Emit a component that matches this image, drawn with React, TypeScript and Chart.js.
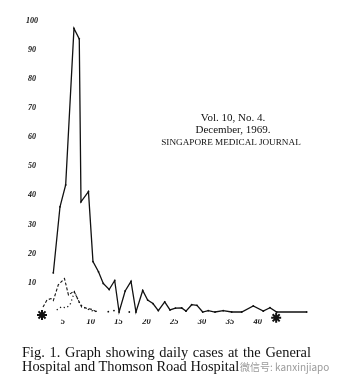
import React, { useEffect, useRef } from "react";
import { Chart, registerables } from "chart.js";

Chart.register(...registerables);

// Tick labels
const xTickValues = [5, 10, 15, 20, 25, 30, 35, 40];
const yTickValues = [10, 20, 30, 40, 50, 60, 70, 80, 90, 100];

// Solid line: total daily cases (day number, cases)
const totalDays = [3.29, 4.49, 5.51, 7.0, 7.95, 8.26, 9.6, 10.41, 11.4, 12.26, 13.32, 14.31, 15.1, 16.19, 17.24, 18.13, 19.34, 20.23, 21.18, 22.14, 23.29, 24.24, 25.22, 26.34, 27.11, 28.13, 29.08, 30.11, 31.11, 32.32, 33.8, 35.31, 37.11, 39.19, 40.99, 42.19, 43.39, 48.78];
const totalCases = [13.4, 36.1, 43.6, 97.3, 93.7, 37.8, 41.3, 17.3, 13.8, 9.8, 7.7, 10.8, 0, 7.2, 10.5, 0, 7.4, 4.1, 2.9, 0.5, 3.5, 0.7, 1.3, 1.4, 0.3, 2.5, 2.3, 0, 0.5, 0, 0.5, 0, 0, 2.1, 0.3, 1.5, 0, 0];

// Dashed line
const dashedDays = [1.44, 2.15, 2.87, 3.29, 4.18, 5.3, 6.01, 7.0, 8.38, 9.28, 10.18, 11.13];
const dashedCases = [1.7, 4.1, 4.6, 3.9, 9.3, 11.5, 5.8, 7.2, 1.7, 1.3, 0.9, 0];

// Dotted line
const dottedDays = [3.9, 4.79, 5.57, 6.28, 7.09, 8.08, 9.16, 10.18, 11.08];
const dottedCases = [0.7, 1.8, 1.4, 2.4, 6.9, 2.7, 1.2, 0.5, 0.2];
const dottedTailDays = [13.16, 14.18, 16.93];
const dottedTailCases = [0.1, 0.5, 0];

// Hand-drawn arrow marks (start / end)
const markDays = [1.26, 43.3];
const markValues = [-1, -2];

const INK = "#111";

const pts = (xs: number[], ys: number[]) => xs.map((x, i) => ({ x, y: ys[i] }));

export default function App() {
  const ref = useRef<HTMLCanvasElement>(null);

  useEffect(() => {
    const chart = new Chart(ref.current as HTMLCanvasElement, {
      type: "line",
      data: {
        datasets: [
          {
            data: pts(totalDays, totalCases),
            borderColor: INK,
            backgroundColor: INK,
            borderWidth: 1.3,
            pointRadius: 0.9,
            pointBorderWidth: 0,
            tension: 0,
            clip: false,
          },
          {
            data: pts(dashedDays, dashedCases),
            borderColor: INK,
            borderWidth: 1.1,
            borderDash: [3, 2],
            pointRadius: 0,
            tension: 0,
            clip: false,
          },
          {
            data: pts(dottedDays, dottedCases),
            borderColor: INK,
            borderWidth: 1.3,
            borderDash: [1.2, 2.8],
            pointRadius: 0,
            tension: 0,
            clip: false,
          },
          {
            data: pts(dottedTailDays, dottedTailCases),
            showLine: false,
            backgroundColor: INK,
            borderColor: INK,
            pointRadius: 0.9,
            pointBorderWidth: 0,
            clip: false,
          },
          {
            data: pts(markDays, markValues),
            showLine: false,
            pointStyle: "star",
            pointRadius: 5,
            borderColor: INK,
            backgroundColor: INK,
            pointBorderWidth: 2,
            clip: false,
          },
        ],
      },
      options: {
        responsive: false,
        animation: false,
        events: [],
        layout: { padding: { top: 20.5, right: 30.3, left: 0, bottom: 0 } },
        plugins: { legend: { display: false }, tooltip: { enabled: false } },
        scales: {
          x: {
            type: "linear",
            min: 0.9,
            max: 49.5,
            grid: { display: false, drawTicks: false },
            border: { display: false },
            afterFit: (s: any) => {
              s.height = 62.7;
            },
            afterBuildTicks: (s: any) => {
              s.ticks = xTickValues.map((v) => ({ value: v }));
            },
            ticks: {
              padding: -3,
              color: "#111",
              font: { family: '"Liberation Serif", serif', style: "italic", weight: "bold", size: 8.5 },
              callback: (v: any) => String(v),
            },
          },
          y: {
            type: "linear",
            min: -2.5,
            max: 100,
            grid: { display: false, drawTicks: false },
            border: { display: false },
            afterFit: (s: any) => {
              s.width = 40;
            },
            afterBuildTicks: (s: any) => {
              s.ticks = yTickValues.map((v) => ({ value: v }));
            },
            ticks: {
              padding: 2,
              crossAlign: "center",
              color: "#111",
              font: { family: '"Liberation Serif", serif', style: "italic", weight: "bold", size: 8 },
              callback: (v: any) => String(v),
            },
          },
        },
      } as any,
    });
    return () => chart.destroy();
  }, []);

  const serif = '"Liberation Serif", "Times New Roman", serif';
  const line = (top: number, size: number, extra: any = {}) => ({
    position: "absolute" as const,
    top,
    fontFamily: serif,
    fontSize: size,
    lineHeight: "12px",
    color: "#111",
    whiteSpace: "nowrap" as const,
    ...extra,
  });

  return (
    <div style={{ position: "fixed", left: 0, top: 0, width: 341, height: 382, background: "#fff", overflow: "hidden" }}>
      <canvas ref={ref} width={341} height={382} style={{ position: "absolute", left: 0, top: 0 }} />
      <div style={line(110.5, 11, { left: 133, width: 200, textAlign: "center" })}>Vol. 10, No. 4.</div>
      <div style={line(123, 11, { left: 133, width: 200, textAlign: "center" })}>December, 1969.</div>
      <div style={line(135.5, 9.2, { left: 131, width: 200, textAlign: "center" })}>
        SINGAPORE MEDICAL JOURNAL
      </div>
      <div
        style={line(344.5, 14.4, {
          left: 22,
          width: 289,
          lineHeight: "15px",
          whiteSpace: "normal",
          textAlign: "justify",
          textAlignLast: "justify",
        })}
      >
        Fig. 1. Graph showing daily cases at the General
      </div>
      <div style={line(358.5, 14.4, { left: 22, lineHeight: "15px" })}>Hospital and Thomson Road Hospital.</div>
      <div
        style={{
          position: "absolute",
          left: 240,
          top: 361,
          fontFamily: '"Noto Sans CJK SC", "Noto Sans", sans-serif',
          fontSize: 10,
          lineHeight: "12px",
          color: "#9a9a9a",
          background: "rgba(255,255,255,0.85)",
          whiteSpace: "nowrap",
        }}
      >
        微信号: kanxinjiapo
      </div>
    </div>
  );
}
